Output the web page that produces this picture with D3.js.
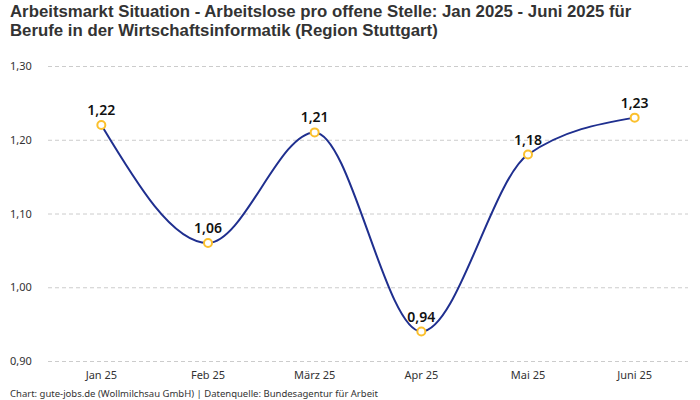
<!DOCTYPE html>
<html lang="de">

<head>
    <meta charset="UTF-8">
    <script src="https://d3js.org/d3.v7.min.js"></script>
    <title>arbeitsmarkt</title>
    <style>
        body { margin: 0; background: #fff; }
        text { font-family: "Noto Sans", "Open Sans", sans-serif; }
    </style>
</head>

<body>
    <script>
        var w = 700,
            h = 400;

        // Daten
        var monate = ["Jan 25", "Feb 25", "März 25", "Apr 25", "Mai 25", "Juni 25"];
        var werte = [1.22, 1.06, 1.21, 0.94, 1.18, 1.23];
        var yTicks = [0.90, 1.00, 1.10, 1.20, 1.30];

        var fmt = function(v) { return d3.format(".2f")(v).replace(".", ","); };

        var svg = d3.select("body").append("svg")
            .attr("width", w)
            .attr("height", h);

        // Titel (zwei Zeilen)
        var titelZeilen = ["Arbeitsmarkt Situation - Arbeitslose pro offene Stelle: Jan 2025 - Juni 2025 für",
            "Berufe in der Wirtschaftsinformatik (Region Stuttgart)"];
        svg.selectAll(".titel").data(titelZeilen).enter().append("text")
            .attr("class", "titel")
            .attr("x", 10)
            .attr("y", function(d, i) { return 17 + i * 19; })
            .attr("fill", "#333")
            .style("font-family", "'Liberation Sans', Arial, sans-serif")
            .style("font-size", "16.8px")
            .style("font-weight", "bold")
            .text(function(d) { return d; });

        var x = d3.scaleBand().domain(monate).range([48, 688]).padding(0);
        var y = d3.scaleLinear().domain([0.9, 1.3]).range([361, 66]);

        // Gitter
        var yAxis = d3.axisLeft(y).tickValues(yTicks).tickSize(-640).tickFormat(fmt).tickPadding(16);
        var gy = svg.append("g").attr("transform", "translate(48,0)").call(yAxis);
        gy.select(".domain").remove();
        gy.selectAll("line").attr("stroke", "#ccc").attr("stroke-dasharray", "4,3");
        gy.selectAll("text").attr("fill", "#333").style("font-size", "11px")
            .attr("text-anchor", "start").attr("x", -38);

        var xAxis = d3.axisBottom(x).tickSize(0).tickPadding(10);
        var gx = svg.append("g").attr("transform", "translate(0,361)").call(xAxis);
        gx.select(".domain").remove();
        gx.selectAll("text").attr("fill", "#333").style("font-size", "11px");

        // Linie
        var line = d3.line()
            .x(function(d, i) { return x(monate[i]) + x.bandwidth() / 2; })
            .y(function(d) { return y(d); })
            .curve(d3.curveMonotoneX);

        svg.append("path")
            .datum(werte)
            .attr("d", line)
            .attr("fill", "none")
            .attr("stroke", "#1f2f8f")
            .attr("stroke-width", 2);

        svg.selectAll("circle").data(werte).enter().append("circle")
            .attr("cx", function(d, i) { return x(monate[i]) + x.bandwidth() / 2; })
            .attr("cy", function(d) { return y(d); })
            .attr("r", 4)
            .attr("fill", "#fff")
            .attr("stroke", "#fbc02d")
            .attr("stroke-width", 2);

        svg.selectAll(".lbl").data(werte).enter().append("text")
            .attr("class", "lbl")
            .attr("x", function(d, i) { return x(monate[i]) + x.bandwidth() / 2; })
            .attr("y", function(d) { return y(d) - 10; })
            .attr("text-anchor", "middle")
            .attr("fill", "#111")
            .style("font-size", "14px")
            .style("font-weight", "600")
            .text(fmt);

        // Quelle
        svg.append("text")
            .attr("x", 10)
            .attr("y", 397)
            .attr("fill", "#333")
            .style("font-size", "9.5px")
            .text("Chart: gute-jobs.de (Wollmilchsau GmbH) | Datenquelle: Bundesagentur für Arbeit");
    </script>
</body>

</html>
